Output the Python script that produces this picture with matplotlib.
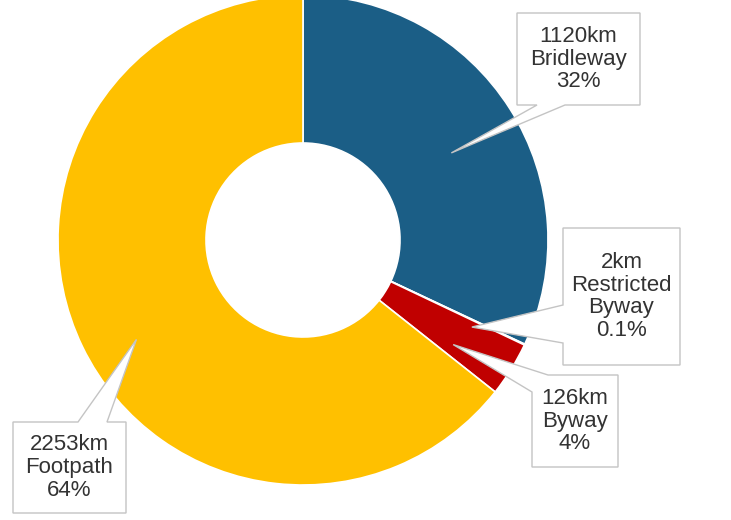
import numpy as np
import matplotlib.pyplot as plt
from matplotlib.patches import Polygon

# ----------------------------
# Data
# ----------------------------
names = ['Bridleway', 'Restricted\nByway', 'Byway', 'Footpath']
km = [1120, 2, 126, 2253]
pct_labels = ['32%', '0.1%', '4%', '64%']
colors = ['#1B5E86', '#C00000', '#C00000', '#FFC000']

W, H = 731, 520
CX, CY = 303, H - 240
R_OUT, R_IN = 245, 97

fig = plt.figure(figsize=(W / 100, H / 100), dpi=100)
ax = fig.add_axes([0, 0, 1, 1])

wedges, _ = ax.pie(km, colors=colors, radius=R_OUT, center=(CX, CY),
                   startangle=90, counterclock=False,
                   explode=[0, 0, 0.02, 0],
                   wedgeprops=dict(width=R_OUT - R_IN, edgecolor='white', linewidth=1.2))
ax.set_xlim(0, W)
ax.set_ylim(0, H)
ax.set_aspect('equal')
ax.axis('off')

# callout boxes: (left, top, right, bottom) in pixels from top-left, tail base,
# tip radius and angle offset
boxes = [
    dict(box=(517, 13, 640, 105), side='bottom', base=(537, 565), r=172, da=-2),
    dict(box=(563, 228, 680, 365), side='left', base=(305, 343), r=190, da=-2),
    dict(box=(532, 375, 618, 467), side='corner', base=(392, 548), r=183, da=-3),
    dict(box=(13, 422, 126, 513), side='top', base=(78, 107), r=194, da=5),
]


def tip_of(w, r, da):
    ang = np.deg2rad((w.theta1 + w.theta2) / 2 + da)
    return (w.center[0] + r * np.cos(ang), H - (w.center[1] + r * np.sin(ang)))


for w, name, k, p, b in zip(wedges, names, km, pct_labels, boxes):
    l, t, r, btm = b['box']
    tx, ty = tip_of(w, b['r'], b['da'])
    a, c = b['base']
    if b['side'] == 'bottom':
        pts = [(l, t), (r, t), (r, btm), (c, btm), (tx, ty), (a, btm), (l, btm)]
    elif b['side'] == 'top':
        pts = [(l, t), (a, t), (tx, ty), (c, t), (r, t), (r, btm), (l, btm)]
    elif b['side'] == 'left':
        pts = [(l, t), (r, t), (r, btm), (l, btm), (l, c), (tx, ty), (l, a)]
    else:
        pts = [(l, a), (tx, ty), (c, t), (r, t), (r, btm), (l, btm)]
    pts = [(x, H - y) for x, y in pts]
    ax.add_patch(Polygon(pts, closed=True, facecolor='white', edgecolor='#C4C4C4',
                         linewidth=1.0, zorder=3))
    ax.text((l + r) / 2, H - (t + btm) / 2, f'{k}km\n{name}\n{p}',
            ha='center', va='center', fontsize=16, color='#333333',
            family='Liberation Sans', linespacing=1.12, zorder=4)

fig.savefig('out.png', dpi=100)
